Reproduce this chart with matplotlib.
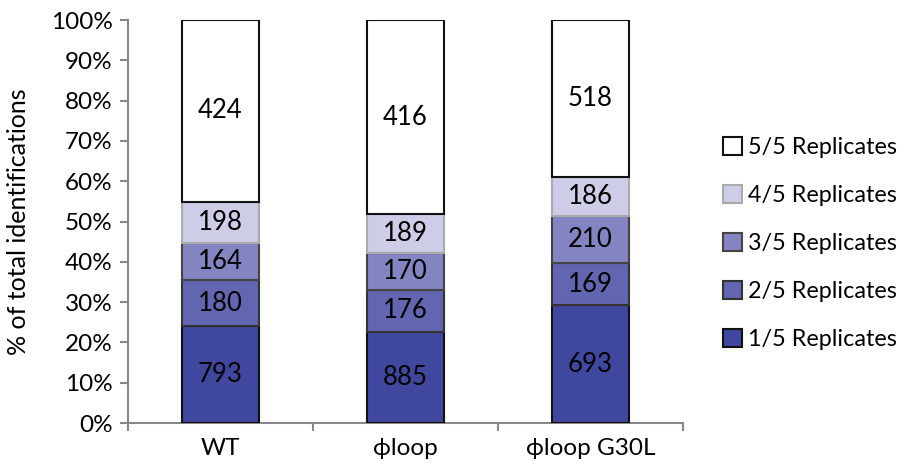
import matplotlib
matplotlib.use("Agg")
import matplotlib.pyplot as plt
import numpy as np

plt.rcParams['font.family'] = ['Lato', 'DejaVu Sans']

categories = ["WT", "\u03d5loop", "\u03d5loop G30L"]
series_names = ["1/5 Replicates", "2/5 Replicates", "3/5 Replicates",
                "4/5 Replicates", "5/5 Replicates"]
# counts as printed on the segments (bottom to top)
label_1of5 = [793, 885, 693]
label_2of5 = [180, 176, 169]
label_3of5 = [164, 170, 210]
label_4of5 = [198, 189, 186]
label_5of5 = [424, 416, 518]
yticks = [0, 10, 20, 30, 40, 50, 60, 70, 80, 90, 100]

colors = ["#3F489E", "#6266B0", "#8584C2", "#CDCDE7", "#FFFFFF"]
edges = ["#111111", "#333333", "#444444", "#AAAAAA", "#111111"]

labels = np.array([label_1of5, label_2of5, label_3of5, label_4of5, label_5of5], dtype=float)
# segment heights as drawn: shares follow the counts in reverse stack order
shares = labels[::-1] / labels.sum(axis=0) * 100

FS = 17.5

fig = plt.figure(figsize=(9.05, 4.7), dpi=100)
ax = fig.add_axes([128/905, 1-423/470, (683-128)/905, (423-20)/470])

x = np.arange(len(categories))
bottom = np.zeros(len(categories))
handles = []
for i in range(5):
    b = ax.bar(x, shares[i], bottom=bottom, width=0.415, color=colors[i],
               edgecolor=edges[i], linewidth=1.5, label=series_names[i], zorder=3)
    handles.append(b)
    for j in range(len(categories)):
        ax.text(x[j], bottom[j] + shares[i][j] / 2, f"{int(labels[i][j])}",
                ha="center", va="center", fontsize=18.5, color="black", zorder=4)
    bottom += shares[i]

ax.set_xlim(-0.5, 2.5)
ax.set_ylim(0, 100)
ax.set_yticks(yticks)
ax.set_yticklabels([f"{v}%" for v in yticks], fontsize=FS)
ax.set_xticks(x)
ax.set_xticklabels(categories, fontsize=FS)
ax.tick_params(axis='x', length=0, pad=11)
ax.set_xticks([-0.5, 0.5, 1.5, 2.5], minor=True)
ax.tick_params(axis='x', which='minor', length=6, direction='out', color='#888888', width=1.5)
ax.tick_params(axis='y', length=6, direction='out', color='#888888', width=1.5, pad=5)
for s in ["top", "right"]:
    ax.spines[s].set_visible(False)
for s in ["left", "bottom"]:
    ax.spines[s].set_color("#888888")
    ax.spines[s].set_linewidth(1.5)
ax.set_ylabel("% of total identifications", fontsize=FS + 0.5, labelpad=15)

leg = fig.legend(handles[::-1], series_names[::-1], loc="upper left",
                 bbox_to_anchor=(714/905, 1-128/470), frameon=False, fontsize=16.8,
                 handlelength=0.8, handleheight=0.8, handletextpad=0.25,
                 labelspacing=1.15, borderaxespad=0)

fig.savefig("out.png", dpi=100)
